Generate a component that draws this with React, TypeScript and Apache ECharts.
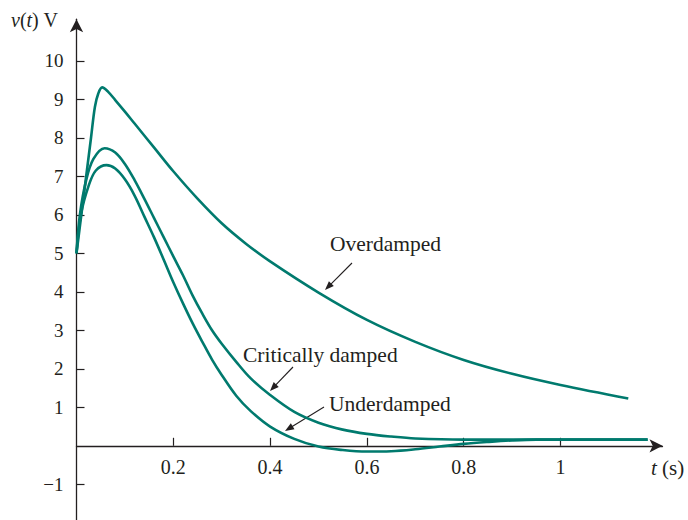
import React, { useEffect, useRef } from "react";
import * as echarts from "echarts";

// Overdamped response
const T_OVER = [0, 0.01, 0.02, 0.03, 0.038, 0.045, 0.053, 0.065, 0.08, 0.1, 0.12, 0.16, 0.2, 0.25, 0.3, 0.35, 0.4, 0.5, 0.6, 0.7, 0.8, 0.9, 1.0, 1.14];
const V_OVER = [5, 6.0, 7.0, 8.0, 8.8, 9.15, 9.31, 9.2, 8.98, 8.68, 8.37, 7.75, 7.13, 6.42, 5.78, 5.25, 4.79, 3.98, 3.27, 2.7, 2.23, 1.87, 1.58, 1.23];

// Critically damped response
const T_CRIT = [0, 0.007, 0.02, 0.035, 0.058, 0.08, 0.1, 0.12, 0.14, 0.16, 0.18, 0.2, 0.22, 0.24, 0.26, 0.28, 0.3, 0.33, 0.36, 0.4, 0.45, 0.5, 0.55, 0.6, 0.65, 0.7, 0.8, 1.0, 1.18];
const V_CRIT = [5, 6.0, 6.9, 7.45, 7.73, 7.62, 7.32, 6.9, 6.42, 5.92, 5.42, 4.92, 4.43, 3.9, 3.43, 3.0, 2.65, 2.18, 1.75, 1.32, 0.88, 0.6, 0.42, 0.31, 0.24, 0.19, 0.16, 0.16, 0.16];

// Underdamped response
const T_UNDER = [0, 0.009, 0.025, 0.04, 0.062, 0.08, 0.1, 0.12, 0.14, 0.16, 0.18, 0.2, 0.22, 0.24, 0.26, 0.28, 0.3, 0.33, 0.36, 0.4, 0.45, 0.5, 0.55, 0.6, 0.65, 0.7, 0.75, 0.8, 0.85, 0.9, 0.95, 1.0, 1.18];
const V_UNDER = [5, 6.0, 6.75, 7.15, 7.29, 7.2, 6.92, 6.5, 5.96, 5.42, 4.84, 4.25, 3.7, 3.18, 2.7, 2.24, 1.84, 1.3, 0.9, 0.5, 0.18, -0.02, -0.11, -0.15, -0.14, -0.09, -0.02, 0.05, 0.1, 0.14, 0.16, 0.16, 0.16];

const X_TICKS = [0.2, 0.4, 0.6, 0.8, 1];
const Y_TICKS = [-1, 1, 2, 3, 4, 5, 6, 7, 8, 9, 10];

const CURVE_COLOR = "#007a6e";
const INK = "#231f20";
const FONT = "Liberation Serif";

function zip(ts: number[], vs: number[]) {
  return ts.map((t, i) => [t, vs[i]]);
}

function arrowGraphic(x1: number, y1: number, x2: number, y2: number) {
  const dx = x2 - x1;
  const dy = y2 - y1;
  const L = Math.hypot(dx, dy);
  const ux = dx / L;
  const uy = dy / L;
  const hl = 9;
  const hw = 3.5;
  const bx = x2 - ux * hl;
  const by = y2 - uy * hl;
  return {
    type: "group",
    children: [
      {
        type: "line",
        shape: { x1, y1, x2: bx + ux * 2, y2: by + uy * 2 },
        style: { stroke: INK, lineWidth: 1.1 },
      },
      {
        type: "polygon",
        shape: {
          points: [
            [x2, y2],
            [bx - uy * hw, by + ux * hw],
            [bx + uy * hw, by - ux * hw],
          ],
        },
        style: { fill: INK },
      },
    ],
  };
}

function label(text: string, x: number, y: number, size: number, rich?: any) {
  return {
    type: "text",
    x,
    y,
    style: {
      text,
      fontFamily: FONT,
      fontSize: size,
      fill: INK,
      verticalAlign: "middle",
      align: "left",
      rich,
    },
  };
}

// pixel layout
const GRID_TOP = 19.2;
const GRID_BOTTOM_PX = 522.8; // y = -2
const ZERO_PX = 445.8; // y = 0

export default function App() {
  const ref = useRef<HTMLDivElement>(null);
  useEffect(() => {
    if (!ref.current) return;
    const chart = echarts.init(ref.current, undefined, { renderer: "svg" });
    const richFor = (size: number) => ({
      i: { fontFamily: FONT, fontSize: size, fontStyle: "italic", fill: INK, color: INK },
      n: { fontFamily: FONT, fontSize: size, fill: INK, color: INK },
    });
    const lineSeries = (name: string, data: number[][]) => ({
      name,
      type: "line",
      data,
      showSymbol: false,
      smooth: 0.35,
      lineStyle: { color: CURVE_COLOR, width: 2.6 },
      itemStyle: { color: CURVE_COLOR },
      silent: true,
    });
    chart.setOption({
      animation: false,
      backgroundColor: "#ffffff",
      grid: {
        left: 76.5,
        right: 25.5,
        top: GRID_TOP,
        bottom: 520 - GRID_BOTTOM_PX,
        containLabel: false,
        outerBoundsMode: "none",
      },
      xAxis: {
        type: "value",
        min: 0,
        max: 1.2107,
        interval: 0.2,
        offset: -(GRID_BOTTOM_PX - ZERO_PX),
        splitLine: { show: false },
        axisLine: {
          onZero: false,
          lineStyle: { color: INK, width: 1.3 },
          symbol: ["none", "arrow"],
          symbolSize: [10, 13],
        },
        axisTick: {
          inside: true,
          length: 8,
          customValues: X_TICKS,
          lineStyle: { color: INK, width: 1.2 },
        },
        axisLabel: {
          customValues: X_TICKS,
          margin: 11,
          fontFamily: FONT,
          fontSize: 20,
          color: INK,
          formatter: (v: number) => String(Math.round(v * 10) / 10),
        },
      },
      yAxis: {
        type: "value",
        min: -2,
        max: 11.08,
        interval: 1,
        splitLine: { show: false },
        axisLine: {
          onZero: false,
          lineStyle: { color: INK, width: 1.3 },
          symbol: ["none", "arrow"],
          symbolSize: [10, 13],
        },
        axisTick: {
          inside: true,
          length: 8,
          customValues: Y_TICKS,
          lineStyle: { color: INK, width: 1.2 },
        },
        axisLabel: {
          customValues: Y_TICKS,
          margin: 13,
          fontFamily: FONT,
          fontSize: 19,
          color: INK,
          formatter: (v: number) => (v < 0 ? "\u2212" + Math.abs(v) : String(v)),
        },
      },
      series: [
        lineSeries("Overdamped", zip(T_OVER, V_OVER)),
        lineSeries("Critically damped", zip(T_CRIT, V_CRIT)),
        lineSeries("Underdamped", zip(T_UNDER, V_UNDER)),
      ],
      graphic: [
        label("{i|v}{n|(}{i|t}{n|) V}", 11, 20, 20, richFor(20)),
        label("{i|t}{n| (s)}", 651, 468, 21, richFor(21)),
        label("Overdamped", 330, 244, 21.5),
        label("Critically damped", 243, 355, 21.5),
        label("Underdamped", 329, 404, 21.5),
        arrowGraphic(352, 263, 325, 290),
        arrowGraphic(293, 367, 270, 391),
        arrowGraphic(324, 407, 285, 431),
      ],
    });
    return () => chart.dispose();
  }, []);
  return (
    <div
      ref={ref}
      style={{ position: "fixed", left: 0, top: 0, width: 688, height: 520, background: "#fff" }}
    />
  );
}
